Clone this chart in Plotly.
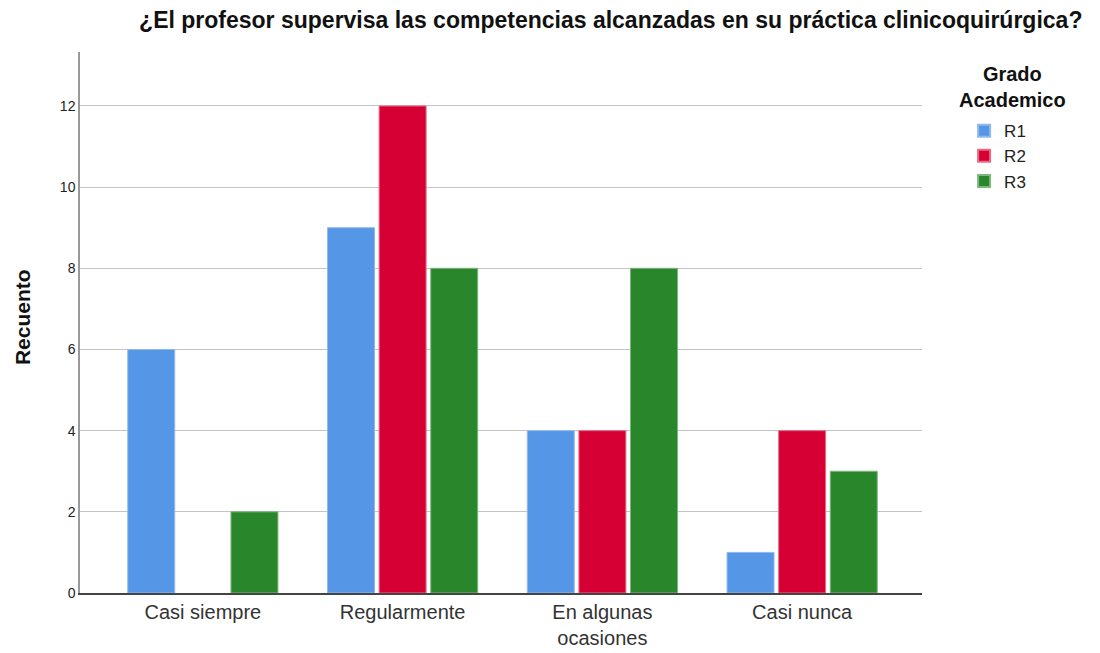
import plotly.graph_objects as go

categories = ["Casi siempre", "Regularmente", "En algunas<br>ocasiones", "Casi nunca"]
series_names = ["R1", "R2", "R3"]
r1 = [6, 9, 4, 1]
r2 = [0, 12, 4, 4]
r3 = [2, 8, 8, 3]
tick_vals = [0, 2, 4, 6, 8, 10, 12]

colors = ["#5597e6", "#d70034", "#2a862b"]
lines = ["#8fb9ee", "#e86a85", "#7fb57f"]

FONT = "Liberation Sans, Arial, sans-serif"

fig = go.Figure()
for name, vals, c, lc in zip(series_names, [r1, r2, r3], colors, lines):
    fig.add_trace(go.Bar(
        x=list(range(len(categories))), y=vals, name=name,
        marker=dict(color=c, line=dict(color=lc, width=[0 if v == 0 else 1 for v in vals])),
    ))

fig.update_layout(
    width=1092, height=645,
    barmode="group", bargap=0.225, bargroupgap=0.09,
    plot_bgcolor="white", paper_bgcolor="white",
    margin=dict(l=72, r=178, t=44, b=60, autoexpand=False),
    font=dict(family=FONT, color="#222"),
    title=dict(
        text="<b>¿El profesor supervisa las competencias alcanzadas en su práctica clinicoquirúrgica?</b>",
        x=0.552, xanchor="center", y=0.981, yanchor="middle",
        font=dict(size=23, color="#111"),
    ),
    xaxis=dict(
        tickmode="array", tickvals=list(range(len(categories))), ticktext=categories,
        range=[-0.615, 3.6], showgrid=False, zeroline=False, automargin=False,
        showline=True, linecolor="#444", linewidth=1.5, ticks="",
        tickfont=dict(size=20, color="#333"),
    ),
    yaxis=dict(
        range=[0, 13.33], tickvals=tick_vals, showgrid=True, gridcolor="#c4c4c4",
        gridwidth=1, zeroline=False, showline=True, linecolor="#999", linewidth=1.5,
        ticks="", tickfont=dict(size=14, color="#222"), automargin=False,
    ),
    legend=dict(
        x=1.05, xanchor="left", y=0.887, yanchor="top",
        font=dict(size=17, color="#222"), itemsizing="constant",
    ),
    annotations=[
        dict(text="<b>Recuento</b>", xref="paper", yref="paper", x=-0.0689, y=0.51,
             xanchor="center", yanchor="middle", textangle=-90, showarrow=False,
             font=dict(size=21, color="#111")),
        dict(text="<b>Grado<br>Academico</b>", xref="paper", yref="paper", x=1.108, y=0.936,
             xanchor="center", yanchor="middle", showarrow=False,
             font=dict(size=20, color="#111")),
    ],
)

fig.write_html("out.html")
